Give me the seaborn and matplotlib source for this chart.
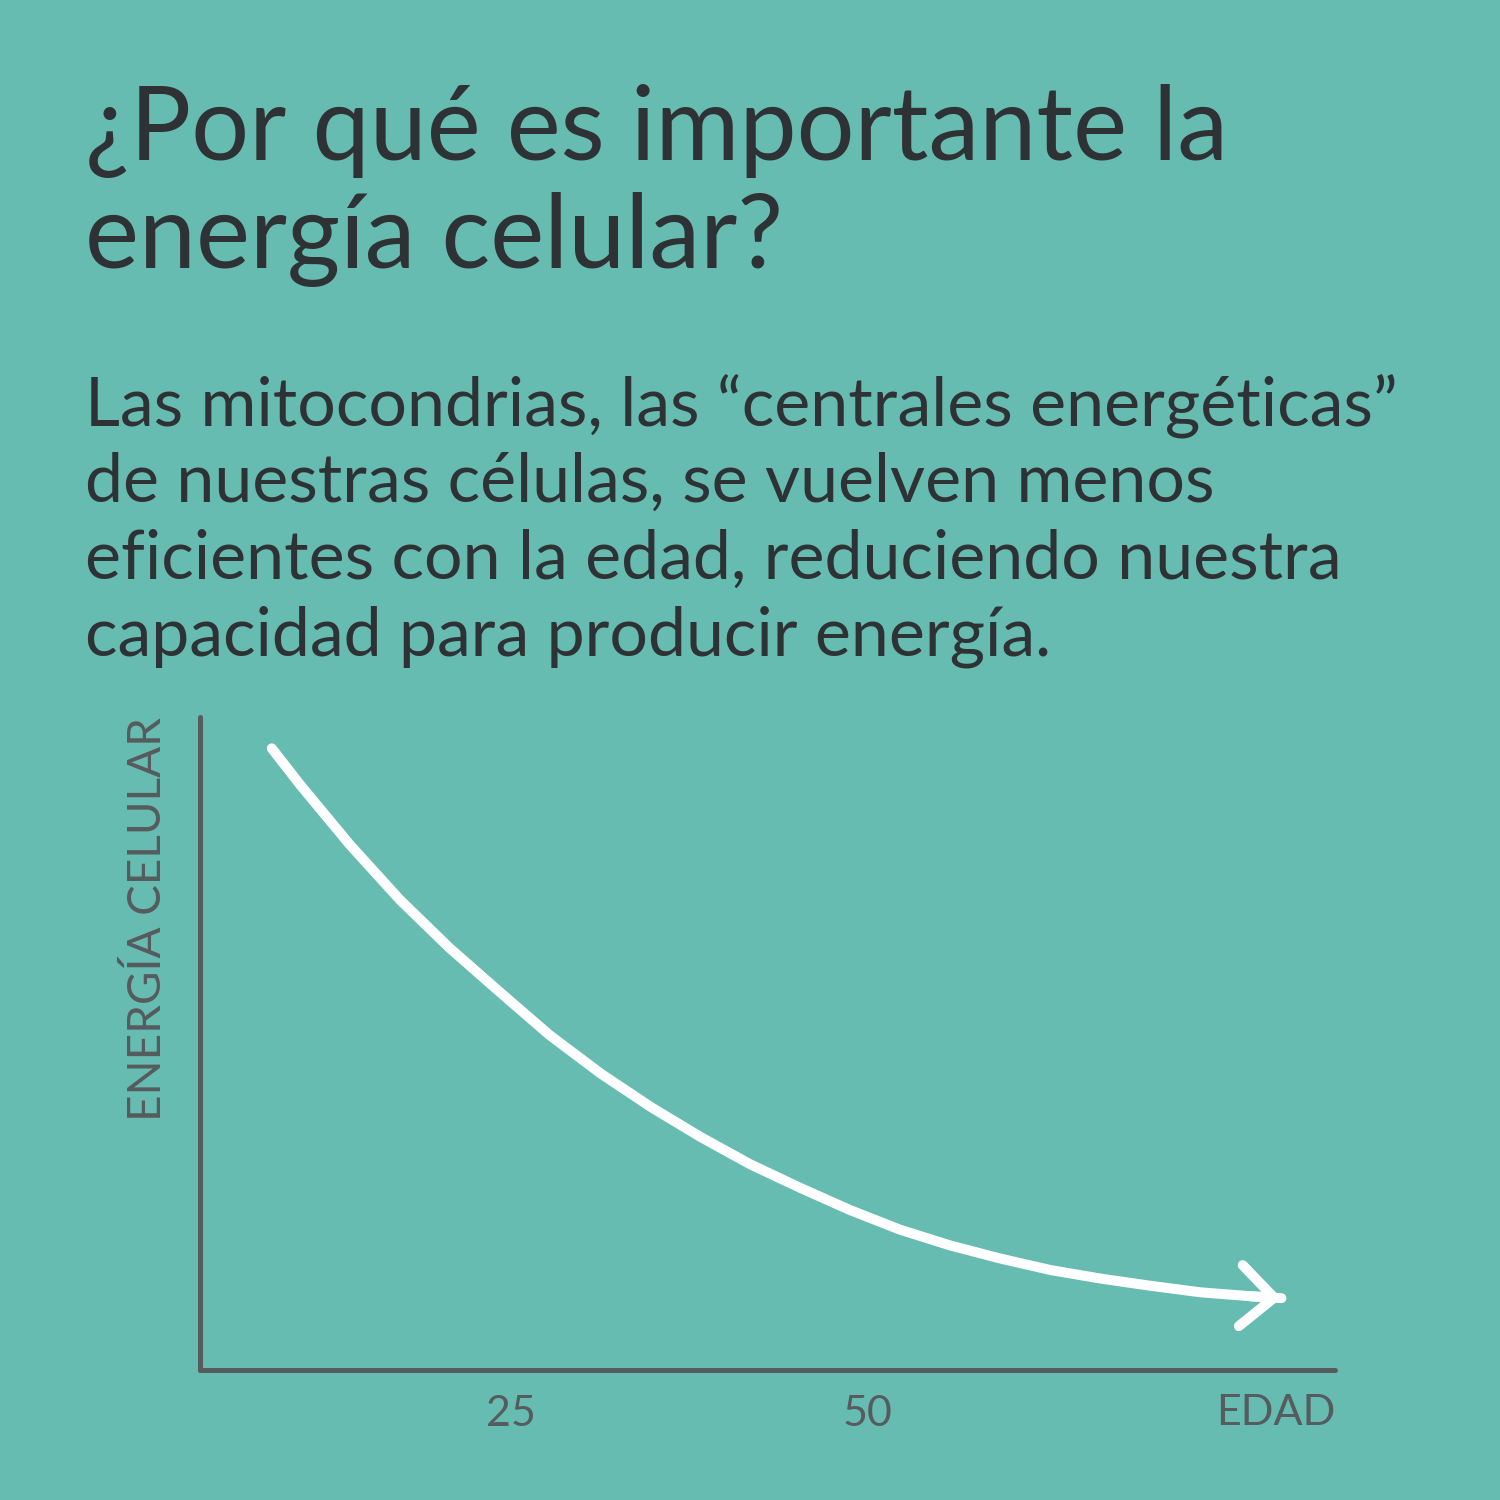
import numpy as np
import pandas as pd
import seaborn as sns
import matplotlib.pyplot as plt

# data
edad = [8.2, 10.2, 13.7, 17.2, 20.7, 24.2, 27.7, 31.3, 34.8, 38.3, 41.8, 45.3,
        48.8, 52.3, 55.8, 59.3, 62.9, 66.4, 69.9, 73.4, 76.9, 79.1]
energia = [95.2, 89.6, 80.4, 72.0, 64.6, 57.9, 51.3, 45.4, 40.3, 35.7, 31.5, 27.9,
           24.5, 21.5, 19.1, 17.1, 15.3, 14.0, 12.9, 11.9, 11.3, 11.0]
xticks = [25, 50]
xtick_labels = ["25", "50"]
titulo = ["¿Por qué es importante la", "energía celular?"]
texto = ["Las mitocondrias, las “centrales energéticas”",
         "de nuestras células, se vuelven menos",
         "eficientes con la edad, reduciendo nuestra",
         "capacidad para producir energía."]

bg = "#66bcb0"
dark = "#2f3234"
grey = "#565b5e"

sns.set_theme(style="white")
plt.rcParams['font.family'] = ['Lato', 'DejaVu Sans']

df = pd.DataFrame({"edad": edad, "energia": energia})

fig = plt.figure(figsize=(15, 15), dpi=100, facecolor=bg)
ax = fig.add_axes([200/1500, 1-1370/1500, 1135/1500, 653/1500])
ax.set_facecolor(bg)

sns.lineplot(data=df, x="edad", y="energia", ax=ax, color="white", lw=7.2,
             solid_capstyle="round", solid_joinstyle="round", sort=False)
# arrow head at the end of the curve
ax.annotate("", xy=(edad[-1], energia[-1]), xytext=(edad[-2], energia[-2]),
            arrowprops=dict(arrowstyle="->,head_length=2.4,head_width=2.2",
                            color="white", lw=7.2, mutation_scale=10,
                            shrinkA=0, shrinkB=0, capstyle="round", joinstyle="round"))

ax.set_xlim(3.16, 82.86)
ax.set_ylim(0, 100)
sns.despine(ax=ax)
for s in ["left", "bottom"]:
    ax.spines[s].set_color(grey)
    ax.spines[s].set_linewidth(3.6)
    ax.spines[s].set_capstyle("round")

ax.set_xticks(xticks)
ax.set_xticklabels(xtick_labels, fontsize=31, color=grey)
ax.set_yticks([])
ax.tick_params(axis="x", length=0, pad=18)
ax.set_xlabel("")
ax.set_ylabel("ENERGÍA CELULAR", loc="top", fontsize=33, color=grey, labelpad=22)
ax.text(1.0, -0.066, "EDAD", transform=ax.transAxes, ha="right", va="center",
        fontsize=31, color=grey)

# title and text
for i, line in enumerate(titulo):
    fig.text(85/1500, 1 - (160 + 108*i)/1500, line, fontsize=73.5, color=dark, va="baseline")
for i, line in enumerate(texto):
    fig.text(85/1500, 1 - (425 + 77*i)/1500, line, fontsize=49, color=dark, va="baseline")

fig.savefig("out.png", dpi=100, facecolor=bg)
